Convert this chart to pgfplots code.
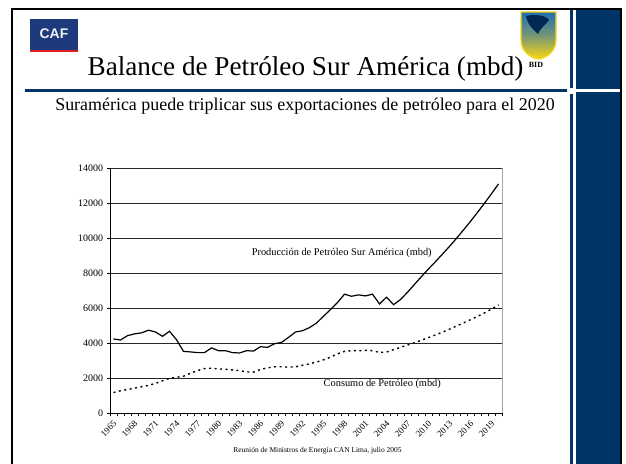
\documentclass[border=0pt]{standalone}
\usepackage{fontspec}
\setmainfont{Liberation Serif}
\newfontfamily\arialfont{Liberation Sans}
\usepackage{pgfplots}
\pgfplotsset{compat=1.18}
\definecolor{navy}{RGB}{0,51,102}
\definecolor{cafblue}{RGB}{28,58,125}
\definecolor{cafred}{RGB}{225,30,40}
\definecolor{shieldblue}{RGB}{30,110,180}
\definecolor{shieldyel}{RGB}{250,215,20}

\pgfplotstableread{
year prod
1965 4230
1966 4170
1967 4420
1968 4520
1969 4580
1970 4730
1971 4630
1972 4380
1973 4670
1974 4190
1975 3520
1976 3490
1977 3450
1978 3450
1979 3720
1980 3560
1981 3560
1982 3450
1983 3430
1984 3560
1985 3540
1986 3790
1987 3750
1988 3960
1989 4030
1990 4320
1991 4630
1992 4700
1993 4880
1994 5140
1995 5530
1996 5910
1997 6310
1998 6790
1999 6670
2000 6750
2001 6690
2002 6790
2003 6230
2004 6620
2005 6190
2006 6480
2007 6900
2008 7350
2009 7800
2010 8230
2011 8650
2012 9080
2013 9520
2014 9980
2015 10460
2016 10950
2017 11460
2018 11990
2019 12530
2020 13090
}\prodtable

\pgfplotstableread{
year cons
1965 1170
1966 1270
1967 1340
1968 1420
1969 1500
1970 1580
1971 1690
1972 1840
1973 1980
1974 2040
1975 2100
1976 2270
1977 2420
1978 2540
1979 2560
1980 2520
1981 2500
1982 2460
1983 2420
1984 2350
1985 2330
1986 2490
1987 2580
1988 2640
1989 2640
1990 2620
1991 2640
1992 2730
1993 2810
1994 2910
1995 3040
1996 3190
1997 3380
1998 3520
1999 3560
2000 3560
2001 3580
2002 3560
2003 3460
2004 3480
2005 3620
2006 3750
2007 3880
2008 4020
2009 4160
2010 4310
2011 4460
2012 4620
2013 4790
2014 4970
2015 5150
2016 5330
2017 5520
2018 5720
2019 5940
2020 6180
}\constable

\begin{document}
\begin{tikzpicture}[x=1bp,y=1bp]
\useasboundingbox (0,0) rectangle (626,464);
\fill[white] (0,0) rectangle (626,464);
% right panel
\fill[navy] (575.5,0) rectangle (620,455);
\fill[white] (575.5,372) rectangle (620,374.5);
% thin vertical line
\fill[navy] (569.5,0) rectangle (572.5,370);
\fill[navy] (569.5,375.5) rectangle (572.5,455);
% title underline
\fill[navy] (25,371.5) rectangle (567,374.5);
% frame
\draw[black, line width=2bp] (11.5,0) -- (11.5,455) -- (621,455) -- (621,0);
% CAF logo
\fill[cafblue] (30,414) rectangle (78,445);
\fill[cafred] (30,411.5) rectangle (78,414);
\node[text=gray!12, font=\arialfont\bfseries\fontsize{14}{14}\selectfont] at (54,430.5) {CAF};
% BID shield
\shade[top color=shieldblue, bottom color=shieldyel, middle color=shieldblue!60!shieldyel, draw=shieldyel, line width=1.2bp]
  (521,452) -- (556,452) -- (556,424) .. controls (556,412) and (546,406) .. (538.5,405)
  .. controls (531,406) and (521,412) .. (521,424) -- cycle;
\fill[navy!80!black] (526,448) .. controls (534,450) and (546,449) .. (549,444)
  .. controls (545,438) and (540,436) .. (538,430) .. controls (534,434) and (528,438) .. (526,448) -- cycle;
\node[font=\bfseries\fontsize{8}{8}\selectfont, inner sep=0pt] at (536,399) {BID};
% title
\node[anchor=base, inner sep=0pt, font=\fontsize{27.3}{27.3}\selectfont] at (305.5,388) {Balance de Petróleo Sur América (mbd)};
% subtitle
\node[anchor=base, inner sep=0pt, font=\fontsize{18}{18}\selectfont] at (305,353) {Suramérica puede triplicar sus exportaciones de petróleo para el 2020};
% footer
\node[anchor=base, inner sep=0pt, font=\fontsize{7.5}{7.5}\selectfont] at (317.5,11) {Reunión de Ministros de Energía CAN Lima, julio 2005};

\begin{axis}[
  at={(110bp,51bp)}, anchor=south west,
  scale only axis, width=392bp, height=245bp,
  xmin=1964.5, xmax=2020.5, ymin=0, ymax=14000,
  axis x line*=bottom, axis y line*=left,
  axis line style={black, line width=0.8bp},
  tick align=outside, major tick length=0pt, minor tick length=3.5bp,
  tick style={black, line width=0.6bp},
  xtick={1965,1968,...,2019},
  minor xtick={1964.5,1965.5,...,2020.5},
  ytick={0,2000,...,14000},
  minor ytick={0,2000,...,14000},
  ymajorgrids, grid style={black!85, line width=0.6bp},
  xticklabel style={xshift=2bp, yshift=-9bp, rotate=45, anchor=east, inner sep=0.5pt, font=\fontsize{9}{9}\selectfont},
  yticklabel style={font=\fontsize{10}{10}\selectfont, xshift=-3.5bp},
  scaled ticks=false,
  /pgf/number format/1000 sep={},
  /pgf/number format/assume math mode=true,
  clip=false,
]
\draw[gray!70, line width=0.6bp] (rel axis cs:1,0) -- (rel axis cs:1,1);
\addplot[black, line width=1.2bp] table[x=year, y=prod] {\prodtable};
\addplot[black, line width=1.4bp, dash pattern=on 2bp off 3.5bp] table[x=year, y=cons] {\constable};
\node[font=\fontsize{10.4}{10.4}\selectfont] at (axis cs:1997.6,9143) {Producción de Petróleo Sur América (mbd)};
\node[font=\fontsize{10.4}{10.4}\selectfont] at (axis cs:2003.4,1657) {Consumo de Petróleo (mbd)};
\end{axis}
\end{tikzpicture}
\end{document}
